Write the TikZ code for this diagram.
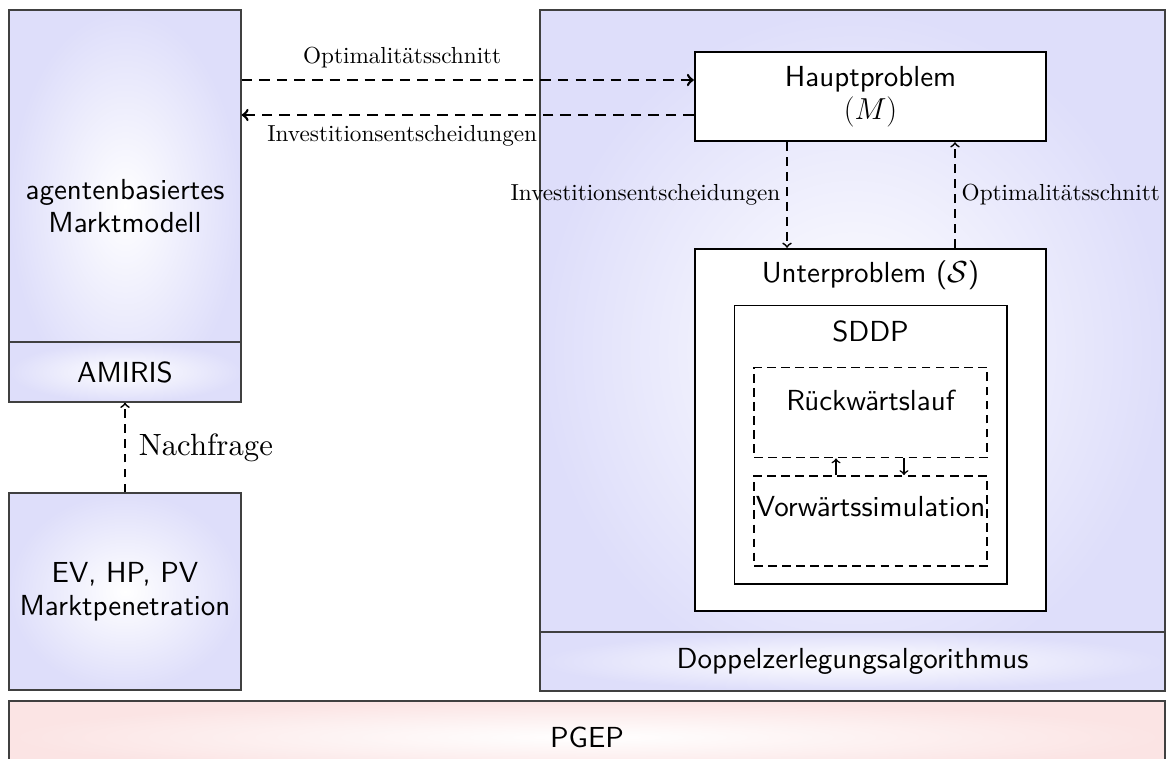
\documentclass[tikz,border=0pt]{standalone}
\usepackage{amsmath}
\usepackage{amssymb}
\usepackage{fontspec}
\setmainfont{lmroman10-regular.otf}[ItalicFont=lmroman10-italic.otf,BoldFont=lmroman10-bold.otf]
\setsansfont{lmsans10-regular.otf}[BoldFont=lmsans10-bold.otf]
\usepackage{tikz}
\definecolor{lila}{RGB}{222,222,250}
\definecolor{rosa}{RGB}{251,228,228}
\newcommand{\Usp}{\mathcal{S}}

\begin{document}
\begin{tikzpicture}[x=0.02cm,y=-0.02cm,
    block/.style={draw=black!75,line width=0.8pt,shading=radial,inner color=white,outer color=lila,minimum width=4.64cm,inner sep=0pt},
    box/.style={draw,fill=white,line width=1.4pt,minimum width=7.02cm,inner sep=0pt},
    lauf/.style={draw,line width=1.1pt,dash pattern=on 5pt off 3pt,minimum width=4.66cm,minimum height=1.8cm,inner sep=0pt},
    txt/.style={font=\sffamily\fontsize{16.5}{18.5}\selectfont,align=center},
    lbl/.style={font=\fontsize{13.2}{15}\selectfont},
    flow/.style={->,line width=1.5pt,dash pattern=on 6pt off 4pt},
    vflow/.style={->,line width=1pt,dash pattern=on 5pt off 3.5pt}]
    \useasboundingbox (0,0) rectangle (1168,758);
    % left side
    \node[block,minimum height=7.84cm,txt] (markt) at (125,206) {agentenbasiertes\\Marktmodell};
    \node[block,minimum height=1.2cm,txt] (amiris) at (125,372) {AMIRIS};
    \node[block,minimum height=3.94cm,txt] (ev) at (125,591.5) {EV, HP, PV\\Marktpenetration};
    % right side
    \node[block,minimum width=12.5cm,minimum height=13.62cm] (zerl) at (852.5,350.5) {};
    \node[block,minimum width=12.5cm,minimum height=1.18cm,txt] (doppel) at (852.5,661.5) {Doppelzerlegungsalgorithmus};
    \node[box,minimum height=1.78cm,txt] (haupt) at (870.5,96.5) {Hauptproblem\\$(M)$};
    \node[box,minimum height=7.24cm] (unter) at (870.5,430) {};
    \node[txt] (untertitel) at (870.5,275) {Unterproblem ($\Usp$)};
    \node[draw,line width=0.6pt,minimum width=5.46cm,minimum height=5.58cm] (sddp) at (870.5,444.5) {};
    \node[txt] (sddptitel) at (870.5,331) {SDDP};
    \node[lauf] (rueck) at (870.5,412.5) {};
    \node[txt] (ruecktext) at (870.5,400) {Rückwärtslauf};
    \node[lauf] (vorw) at (870.5,521) {};
    \node[txt] (vorwtext) at (870.5,507) {Vorwärtssimulation};
    % bottom
    \node[block,outer color=rosa,minimum width=23.12cm,minimum height=1.44cm,txt] (pgep) at (587,737) {PGEP};

    \draw[flow] ([yshift=0.33cm]haupt.west -| markt.east) -- node[lbl,above=3pt,pos=0.355] {Optimalitätsschnitt} ([yshift=0.33cm]haupt.west);
    \draw[flow] ([yshift=-0.37cm]haupt.west) -- node[lbl,below=2pt,pos=0.645] {Investitionsentscheidungen} ([yshift=-0.37cm]haupt.west -| markt.east);
    \draw[vflow] ([xshift=-1.67cm]haupt.south) -- node[lbl,left] {Investitionsentscheidungen} ([xshift=-1.67cm]haupt.south |- unter.north);
    \draw[vflow] ([xshift=1.69cm]unter.north) -- node[lbl,right] {Optimalitätsschnitt} ([xshift=1.69cm]unter.north |- haupt.south);
    \draw[vflow] (ev) -- node[right=4pt,font=\fontsize{17.5}{19}\selectfont] {Nachfrage} (amiris);
    \draw[->,line width=0.9pt] ([xshift=-0.69cm]vorw.north) -- ([xshift=-0.69cm]rueck.south);
    \draw[->,line width=0.9pt] ([xshift=0.67cm]rueck.south) -- ([xshift=0.67cm]vorw.north);
\end{tikzpicture}
\end{document}
